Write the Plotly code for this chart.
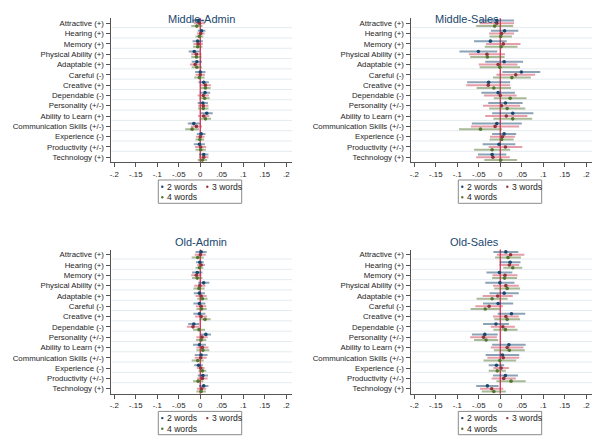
import plotly.graph_objects as go

W, H = 600, 446

categories = ["Attractive (+)", "Hearing (+)", "Memory (+)", "Physical Ability (+)",
              "Adaptable (+)", "Careful (-)", "Creative (+)", "Dependable (-)",
              "Personality (+/-)", "Ability to Learn (+)", "Communication Skills (+/-)",
              "Experience (-)", "Productivity (+/-)", "Technology (+)"]
x_ticks = [-0.2, -0.15, -0.1, -0.05, 0, 0.05, 0.1, 0.15, 0.2]
x_labels = ["-.2", "-.15", "-.1", "-.05", "0", ".05", ".1", ".15", ".2"]
series_names = ["2 words", "3 words", "4 words"]

# Middle-Admin: point estimates and CI half-widths
ma_est2 = [-0.005, 0.003, -0.006, -0.014, -0.008, 0.000, 0.008, 0.011, 0.006, 0.015, -0.015, 0.002, -0.002, 0.008]
ma_ci2 = [0.014, 0.009, 0.012, 0.013, 0.012, 0.012, 0.012, 0.012, 0.012, 0.014, 0.014, 0.010, 0.013, 0.011]
ma_est3 = [-0.002, 0.001, -0.005, -0.009, -0.012, 0.000, 0.012, 0.007, 0.007, 0.008, -0.009, 0.000, 0.001, 0.008]
ma_ci3 = [0.013, 0.009, 0.011, 0.012, 0.012, 0.011, 0.013, 0.013, 0.012, 0.013, 0.013, 0.010, 0.013, 0.011]
ma_est4 = [-0.008, -0.002, -0.006, -0.009, -0.008, -0.002, 0.012, 0.010, 0.007, 0.012, -0.019, -0.001, 0.001, 0.005]
ma_ci4 = [0.013, 0.009, 0.011, 0.012, 0.012, 0.012, 0.012, 0.012, 0.012, 0.013, 0.016, 0.010, 0.012, 0.011]

# Middle-Sales
ms_est2 = [-0.008, 0.010, -0.023, -0.051, 0.009, 0.049, -0.027, -0.005, 0.012, 0.029, -0.008, 0.009, -0.003, -0.019]
ms_ci2 = [0.040, 0.032, 0.038, 0.044, 0.044, 0.044, 0.050, 0.039, 0.040, 0.048, 0.058, 0.028, 0.038, 0.033]
ms_est3 = [-0.008, 0.003, 0.007, -0.031, -0.005, 0.036, -0.028, 0.000, 0.003, 0.014, -0.012, 0.005, 0.012, -0.017]
ms_ci3 = [0.040, 0.029, 0.040, 0.042, 0.045, 0.045, 0.051, 0.038, 0.043, 0.049, 0.056, 0.029, 0.039, 0.039]
ms_est4 = [-0.013, 0.001, 0.002, -0.030, -0.001, 0.027, -0.015, 0.023, 0.016, 0.029, -0.046, 0.003, -0.019, 0.001]
ms_ci4 = [0.043, 0.026, 0.038, 0.040, 0.047, 0.044, 0.040, 0.038, 0.042, 0.045, 0.050, 0.028, 0.042, 0.038]

# Old-Admin
oa_est2 = [0.002, -0.001, -0.007, 0.008, -0.002, -0.002, -0.002, -0.015, 0.013, -0.002, 0.002, -0.004, 0.006, 0.008]
oa_ci2 = [0.013, 0.009, 0.012, 0.013, 0.013, 0.014, 0.014, 0.013, 0.012, 0.015, 0.015, 0.010, 0.012, 0.011]
oa_est3 = [0.000, 0.002, -0.009, -0.001, 0.002, 0.002, 0.002, -0.017, 0.004, 0.005, 0.001, 0.001, 0.005, 0.003]
oa_ci3 = [0.013, 0.009, 0.012, 0.013, 0.013, 0.012, 0.014, 0.014, 0.013, 0.014, 0.014, 0.009, 0.012, 0.011]
oa_est4 = [-0.006, -0.002, -0.007, -0.003, 0.005, 0.003, 0.011, -0.003, 0.002, 0.006, -0.006, 0.005, -0.005, 0.002]
oa_ci4 = [0.014, 0.009, 0.012, 0.013, 0.012, 0.012, 0.013, 0.014, 0.012, 0.015, 0.014, 0.009, 0.012, 0.011]

# Old-Sales
os_est2 = [0.013, 0.023, -0.002, -0.001, 0.009, -0.005, 0.026, -0.010, -0.036, 0.020, 0.005, -0.009, 0.012, -0.030]
os_ci2 = [0.029, 0.024, 0.030, 0.034, 0.034, 0.035, 0.032, 0.030, 0.030, 0.039, 0.039, 0.018, 0.029, 0.026]
os_est3 = [0.024, 0.021, 0.011, 0.013, -0.006, -0.026, 0.013, 0.006, -0.039, 0.016, 0.007, 0.002, 0.008, -0.020]
os_ci3 = [0.032, 0.023, 0.029, 0.030, 0.035, 0.032, 0.030, 0.028, 0.031, 0.038, 0.037, 0.018, 0.028, 0.027]
os_est4 = [0.018, 0.029, 0.010, 0.016, -0.019, -0.035, 0.016, 0.012, -0.033, 0.021, -0.001, -0.007, 0.025, -0.015]
os_ci4 = [0.030, 0.022, 0.029, 0.030, 0.036, 0.034, 0.030, 0.028, 0.028, 0.036, 0.038, 0.020, 0.034, 0.028]

colors = ["#1a476f", "#90353b", "#55752f"]
ci_colors = ["rgba(26,71,111,0.5)", "rgba(205,60,85,0.5)", "rgba(85,117,47,0.5)"]
offsets = [-0.27, 0.0, 0.27]
FONT = "Arial, Liberation Sans, sans-serif"

# (title, estimates, ci half widths, left px, top px of plot)
panels = [
    ("Middle-Admin", [ma_est2, ma_est3, ma_est4], [ma_ci2, ma_ci3, ma_ci4], 0, 0),
    ("Middle-Sales", [ms_est2, ms_est3, ms_est4], [ms_ci2, ms_ci3, ms_ci4], 300, 0),
    ("Old-Admin", [oa_est2, oa_est3, oa_est4], [oa_ci2, oa_ci3, oa_ci4], 0, 231.4),
    ("Old-Sales", [os_est2, os_est3, os_est4], [os_ci2, os_ci3, os_ci4], 300, 231.4),
]

fig = go.Figure()
shapes = []
annotations = []
ypos = list(range(len(categories)))

for k, (title, ests, cis, px0, py0) in enumerate(panels):
    n = "" if k == 0 else str(k + 1)
    xa, ya = "x" + n, "y" + n
    xdom = [(px0 + 110.5) / W, (px0 + 292) / W]
    ydom = [1 - (py0 + 162.45) / H, 1 - (py0 + 18.15) / H]

    for s in range(3):
        fig.add_trace(go.Scatter(
            x=ests[s], y=[p + offsets[s] for p in ypos],
            mode="markers",
            marker=dict(size=3.6, color=colors[s]),
            error_x=dict(type="data", array=cis[s], symmetric=True,
                         color=ci_colors[s], thickness=2, width=0),
            xaxis=xa, yaxis=ya, showlegend=False, name=series_names[s]
        ))

    axis_common = dict(showline=True, linecolor="#555", linewidth=1,
                       ticks="outside", ticklen=4, tickcolor="#555",
                       tickfont=dict(family=FONT, size=7.8, color="#1e1e1e"),
                       showgrid=False, zeroline=False, fixedrange=True)
    fig.layout["xaxis" + n] = dict(domain=xdom, range=[-0.2088, 0.2133], anchor=ya,
                                   tickvals=x_ticks, ticktext=x_labels, **axis_common)
    fig.layout["yaxis" + n] = dict(domain=ydom, range=[13.5, -0.5], anchor=xa,
                                   tickvals=ypos, ticktext=categories, **axis_common)

    # light grid lines between categories
    for i in range(len(categories) - 1):
        shapes.append(dict(type="line", xref=xa + " domain", yref=ya,
                           x0=0.005, x1=1, y0=i + 0.42, y1=i + 0.42,
                           line=dict(color="#e4ebef", width=1), layer="below"))
    # zero line
    shapes.append(dict(type="line", xref=xa, yref=ya + " domain", x0=0, x1=0, y0=0, y1=1,
                       line=dict(color="#dc2a4f", width=1.3), layer="below"))

    annotations.append(dict(text=title, x=(xdom[0] + xdom[1]) / 2, y=1 - (py0 + 10.7) / H,
                            xref="paper", yref="paper", showarrow=False,
                            font=dict(family=FONT, size=11, color="#1a476f")))

    # legend box
    lx0, ly0 = px0 + 158.3, py0 + 180
    shapes.append(dict(type="rect", xref="paper", yref="paper",
                       x0=lx0 / W, x1=(lx0 + 83.4) / W, y0=1 - (ly0 + 23.3) / H, y1=1 - ly0 / H,
                       line=dict(color="#8a8a8a", width=1), fillcolor="white"))
    spots = [(lx0 + 4, ly0 + 6.7), (lx0 + 49, ly0 + 6.7), (lx0 + 4, ly0 + 17.3)]
    for s, (dx, dy) in enumerate(spots):
        shapes.append(dict(type="circle", xref="paper", yref="paper",
                           x0=(dx - 1.2) / W, x1=(dx + 1.2) / W,
                           y0=1 - (dy + 1.2) / H, y1=1 - (dy - 1.2) / H,
                           line=dict(width=0), fillcolor=colors[s]))
        annotations.append(dict(text=series_names[s], x=(dx + 3) / W, y=1 - dy / H,
                                xref="paper", yref="paper", xanchor="left", yanchor="middle",
                                showarrow=False,
                                font=dict(family=FONT, size=8.6, color="#1e1e1e")))

fig.update_layout(width=W, height=H, margin=dict(l=0, r=0, t=0, b=0),
                  paper_bgcolor="white", plot_bgcolor="white",
                  shapes=shapes, annotations=annotations, showlegend=False)

# the page body has a default 8px margin; remove it so the figure fills the window
fig.write_html("out.html", config={"displayModeBar": False},
               post_script="document.body.style.margin='0px';")
